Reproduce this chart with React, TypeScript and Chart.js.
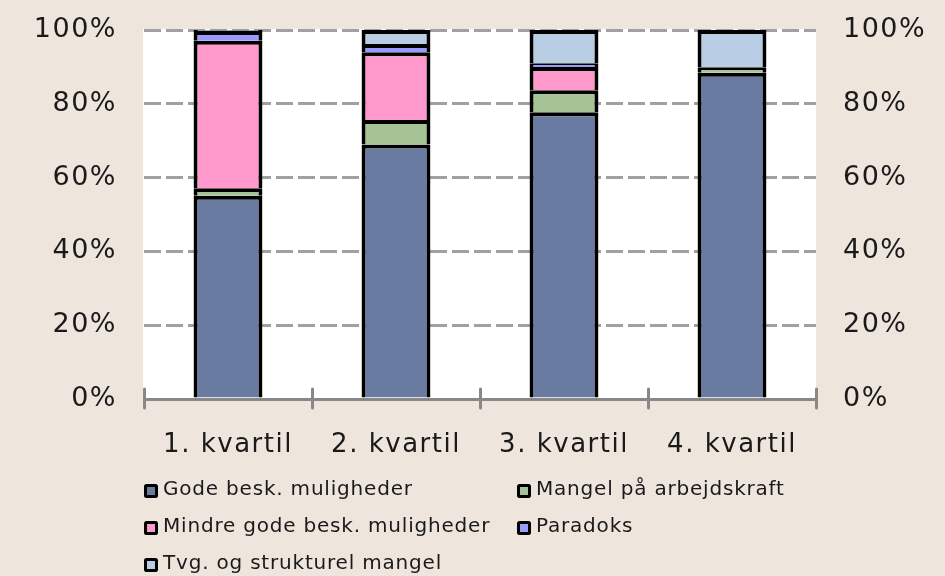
import React, { useEffect, useRef } from 'react';
import { Chart, registerables } from 'chart.js';

Chart.register(...registerables);

const categories = ['1. kvartil', '2. kvartil', '3. kvartil', '4. kvartil'];
const seriesNames = [
  'Gode besk. muligheder',
  'Mangel på arbejdskraft',
  'Mindre gode besk. muligheder',
  'Paradoks',
  'Tvg. og strukturel mangel',
];
const godeBesk = [55.1, 69.0, 77.7, 88.4];
const mangelArbejdskraft = [2.0, 6.6, 6.0, 1.5];
const mindreGode = [40.0, 18.4, 6.3, 0];
const paradoks = [2.6, 2.2, 1.0, 0];
const tvgStrukturel = [0.3, 3.8, 9.0, 10.1];
const yTickValues = [0, 20, 40, 60, 80, 100];

const seriesColors = ['#6A7BA2', '#A6C396', '#FF99CC', '#9999FF', '#B9CDE5'];
const BG = '#EEE6DD';
const TEXT = '#1a1a1a';
const FONT = '"DejaVu Sans", Verdana, sans-serif';

const seriesValues = [godeBesk, mangelArbejdskraft, mindreGode, paradoks, tvgStrukturel];

const backgroundPlugin = {
  id: 'bgPlugin',
  beforeDraw(chart: any) {
    const { ctx, chartArea, width, height } = chart;
    ctx.save();
    ctx.fillStyle = BG;
    ctx.fillRect(0, 0, width, height);
    ctx.fillStyle = '#FFFFFF';
    ctx.fillRect(chartArea.left - 1, chartArea.top - 1, chartArea.right - chartArea.left + 1, chartArea.bottom - chartArea.top + 1);
    ctx.restore();
    ctx.letterSpacing = '1.5px';
  },
};

const axisTickPlugin = {
  id: 'axisTicks',
  afterDraw(chart: any) {
    const { ctx } = chart;
    const x = chart.scales.x;
    const n = chart.data.labels.length;
    const step = x.getPixelForValue(1) - x.getPixelForValue(0);
    const y = x.top;
    ctx.save();
    ctx.strokeStyle = '#888888';
    ctx.lineWidth = 3;
    ctx.lineCap = 'round';
    for (let i = 0; i <= n; i++) {
      const px = Math.round(x.getPixelForValue(0) - step / 2 + i * step) + 0.5;
      ctx.beginPath();
      ctx.moveTo(px, y - 10);
      ctx.lineTo(px, y + 9);
      ctx.stroke();
    }
    ctx.restore();
  },
};

const columnLegendPlugin = {
  id: 'columnLegend',
  afterDraw(chart: any) {
    const { ctx, chartArea } = chart;
    ctx.save();
    ctx.font = `20px ${FONT}`;
    ctx.letterSpacing = '0.8px';
    ctx.textBaseline = 'middle';
    ctx.textAlign = 'left';
    chart.data.datasets.forEach((ds: any, i: number) => {
      const col = i % 2;
      const row = Math.floor(i / 2);
      const bx = chartArea.left + col * 373;
      const cy = chartArea.bottom + 91 + row * 37;
      ctx.fillStyle = '#000000';
      ctx.beginPath();
      (ctx as any).roundRect(bx, cy - 6, 14, 14, 2.5);
      ctx.fill();
      ctx.fillStyle = ds.backgroundColor;
      ctx.fillRect(bx + 3, cy - 3, 8, 8);
      ctx.fillStyle = TEXT;
      ctx.fillText(ds.label, bx + 19, cy);
    });
    ctx.restore();
  },
};

export default function App() {
  const canvasRef = useRef<HTMLCanvasElement | null>(null);

  useEffect(() => {
    document.body.style.margin = '0';
    document.body.style.background = BG;
    const canvas = canvasRef.current;
    if (!canvas) return;

    const tickFont = { family: FONT, size: 27 };
    const chart = new Chart(canvas, {
      type: 'bar',
      data: {
        labels: categories,
        datasets: seriesNames.map((name, i) => ({
          label: name,
          data: seriesValues[i],
          backgroundColor: seriesColors[i],
          borderColor: '#000000',
          borderWidth: 4,
          borderSkipped: 'start',
          inflateAmount: 0,
          barPercentage: 0.41,
          categoryPercentage: 1,
        })),
      },
      options: {
        responsive: false,
        animation: false,
        layout: { padding: { top: 30, left: 0, right: 0, bottom: 0 } },
        plugins: {
          legend: { display: false },
          tooltip: { enabled: false },
        },
        scales: {
          x: {
            stacked: true,
            grid: { display: false, drawTicks: false },
            border: { display: true, color: '#888888', width: 3 },
            ticks: {
              font: { family: FONT, size: 26 },
              color: TEXT,
              padding: 31,
              maxRotation: 0,
              autoSkip: false,
            },
            afterFit(scale: any) {
              scale.height = 177;
            },
          },
          y: {
            stacked: true,
            position: 'left',
            min: 0,
            max: 100,
            afterBuildTicks(scale: any) {
              scale.ticks = yTickValues.map((v) => ({ value: v }));
            },
            grid: {
              color: '#A0A0A0',
              lineWidth: 3,
              drawTicks: true,
              tickLength: 24,
              tickColor: 'rgba(0,0,0,0)',
            },
            border: { display: false, dash: [17, 5] },
            ticks: {
              font: tickFont,
              color: TEXT,
              padding: 3,
              callback: (v: any) => `${v}%`,
            },
            afterFit(scale: any) {
              scale.width = 144;
            },
          },
          y2: {
            position: 'right',
            min: 0,
            max: 100,
            afterBuildTicks(scale: any) {
              scale.ticks = yTickValues.map((v) => ({ value: v }));
            },
            grid: { display: false, drawTicks: true, tickLength: 24 },
            border: { display: false },
            ticks: {
              font: tickFont,
              color: TEXT,
              padding: 3,
              callback: (v: any) => `${v}%`,
            },
            afterFit(scale: any) {
              scale.width = 129;
            },
          },
        },
      } as any,
      plugins: [backgroundPlugin, axisTickPlugin, columnLegendPlugin],
    });

    return () => {
      chart.destroy();
    };
  }, []);

  return (
    <div style={{ width: 945, height: 576, background: BG }}>
      <canvas ref={canvasRef} width={945} height={576} style={{ display: 'block' }} />
    </div>
  );
}
